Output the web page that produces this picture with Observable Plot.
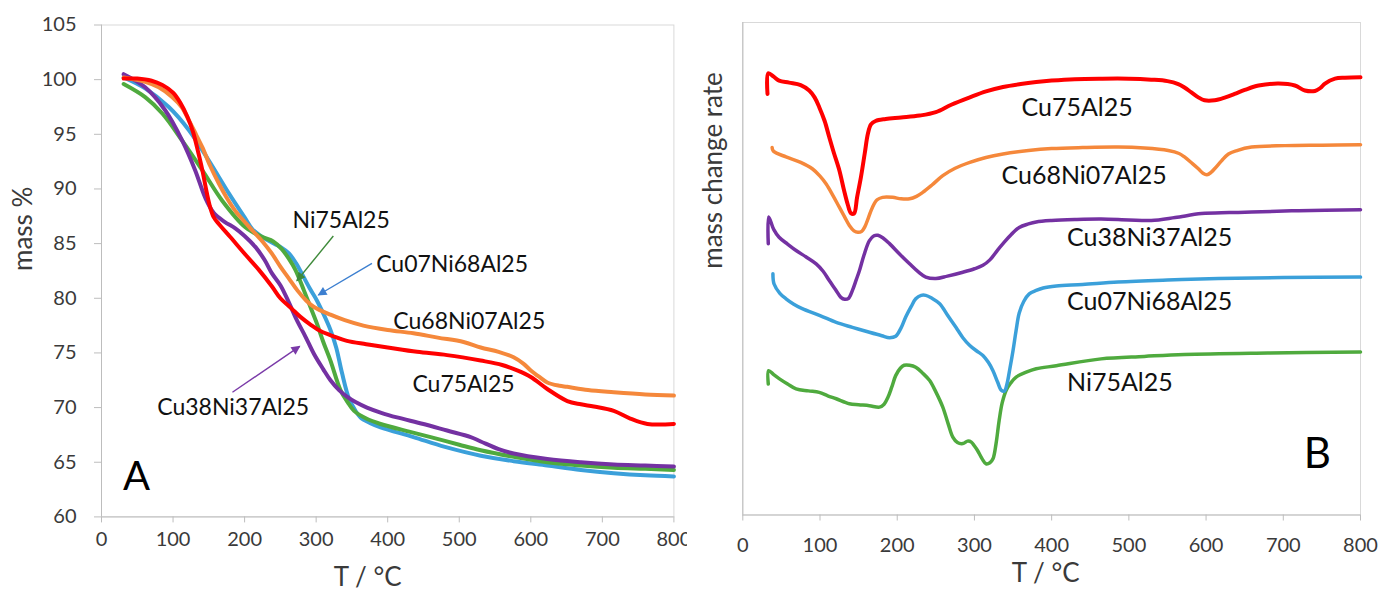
<!DOCTYPE html>
<html><head><meta charset="utf-8">
<script src="https://cdn.jsdelivr.net/npm/d3@7"></script>
<script src="https://cdn.jsdelivr.net/npm/@observablehq/plot@0.6"></script>
<style>
body{margin:0;background:#fff;}
#wrap{position:relative;width:1380px;height:591px;overflow:hidden;background:#fff;}
#a{position:absolute;left:0;top:0;}
#b{position:absolute;left:687px;top:0;background:#fff;}
</style></head><body><div id="wrap"><div id="a"></div><div id="b"></div></div>
<script>
// ---------- data ----------
const xTicks = [0, 100, 200, 300, 400, 500, 600, 700, 800];
const yTicksA = [60, 65, 70, 75, 80, 85, 90, 95, 100, 105];
const seriesNames = ["Cu75Al25", "Cu68Ni07Al25", "Cu38Ni37Al25", "Cu07Ni68Al25", "Ni75Al25"];
const seriesColors = ["#ff0000", "#f5883b", "#7431a2", "#3ba0da", "#4faa3e"];

// Panel A: mass % vs T (°C)
const tgaCu75Al25 = [[31,100.1],[50,100.1],[70,99.9],[85,99.5],[100,98.8],[110,97.9],[120,96.6],[128,95.2],[135,93.4],[141,91.7],[147,89.7],[152,88.3],[157,87.4],[164,86.8],[180,85.6],[201,84.0],[220,82.6],[238,81.1],[250,80.0],[265,79.1],[278,78.3],[292,77.6],[306,77.0],[325,76.5],[343,76.1],[370,75.8],[400,75.5],[441,75.1],[483,74.8],[530,74.3],[560,73.9],[581,73.4],[600,72.8],[623,71.7],[651,70.6],[670,70.3],[688,70.1],[716,69.7],[739,69.0],[763,68.5],[800,68.5]];
const tgaCu68Ni07Al25 = [[31,100.2],[61,99.8],[80,99.3],[99,98.4],[112,97.5],[122,96.3],[132,95.0],[141,93.8],[152,92.1],[164,90.5],[175,89.2],[187,88.0],[200,87.0],[211,86.2],[225,85.2],[238,84.1],[250,82.9],[262,81.8],[274,80.7],[286,79.8],[297,79.2],[320,78.5],[340,78.0],[366,77.5],[400,77.1],[436,76.8],[470,76.4],[506,76.0],[530,75.5],[555,75.1],[576,74.6],[590,74.0],[600,73.4],[612,72.8],[623,72.3],[640,72.0],[651,71.9],[680,71.6],[716,71.4],[760,71.2],[800,71.1]];
const tgaCu38Ni37Al25 = [[31,100.5],[61,99.3],[89,97.2],[113,94.4],[131,91.7],[145,89.2],[157,87.8],[172,87.0],[187,86.4],[200,85.7],[215,84.7],[228,83.5],[238,82.3],[250,81.2],[262,79.6],[273,78.0],[285,76.5],[297,74.9],[310,73.5],[320,72.5],[332,71.6],[343,71.0],[355,70.5],[371,70.0],[392,69.5],[413,69.1],[450,68.5],[483,67.9],[516,67.3],[530,66.9],[555,66.2],[576,65.8],[623,65.3],[670,65.0],[716,64.8],[760,64.7],[800,64.6]];
const tgaCu07Ni68Al25 = [[31,100.2],[61,99.2],[94,97.5],[122,95.4],[150,92.6],[178,89.6],[200,87.4],[211,86.3],[225,85.6],[238,85.1],[250,84.7],[262,84.1],[272,83.2],[282,82.0],[292,80.8],[301,79.8],[310,78.6],[320,77.1],[328,75.5],[336,73.2],[346,70.8],[355,69.7],[362,69.1],[375,68.6],[390,68.2],[436,67.3],[480,66.4],[530,65.6],[576,65.1],[623,64.7],[670,64.3],[716,64.0],[760,63.8],[800,63.7]];
const tgaNi75Al25 = [[31,99.6],[61,98.4],[85,96.9],[113,94.4],[141,91.7],[169,88.9],[201,86.5],[225,85.6],[240,85.2],[252,84.5],[262,83.6],[271,82.6],[283,80.7],[292,79.2],[301,77.7],[310,76.0],[320,74.3],[334,71.6],[344,70.5],[353,69.7],[370,69.0],[390,68.5],[430,67.8],[460,67.3],[500,66.6],[530,66.1],[576,65.5],[623,65.0],[670,64.7],[716,64.5],[760,64.4],[800,64.3]];

// Panel B: mass change rate (arbitrary units, curves offset) vs T (°C)
const dtgCu75Al25 = [[32,85.5],[33,89.7],[40,89.0],[47,88.2],[60,87.8],[75,87.3],[86,86.2],[93,84.8],[99,82.8],[106,80.0],[112,76.7],[118,73.5],[125,70.0],[131,66.0],[136,63.0],[140,61.3],[144,61.2],[148,64.5],[153,68.6],[158,73.5],[162,77.4],[166,79.3],[172,80.0],[185,80.4],[205,80.7],[229,81.1],[250,81.8],[270,83.3],[294,84.8],[315,86.0],[337,86.9],[360,87.5],[380,87.9],[400,88.2],[430,88.5],[464,88.6],[500,88.6],[529,88.4],[550,88.1],[564,87.5],[572,86.8],[581,85.8],[590,84.8],[598,84.2],[611,84.2],[625,84.8],[637,85.5],[650,86.3],[668,87.2],[694,87.6],[715,87.2],[728,86.2],[741,86.1],[748,86.7],[754,87.6],[767,88.6],[780,88.8],[800,88.9]];
const dtgCu68Ni07Al25 = [[38,74.6],[39.5,73.9],[56,72.7],[75,71.6],[90,70.3],[100,68.8],[108,67.2],[117,64.8],[125,62.5],[132,60.5],[138,58.8],[144,57.7],[149,57.4],[154,57.6],[158,58.5],[163,60.5],[168,62.5],[174,64.0],[181,64.5],[194,64.5],[205,64.2],[216,64.2],[225,64.7],[233,65.5],[245,67.0],[259,68.9],[275,70.4],[294,71.6],[315,72.6],[337,73.3],[370,74.0],[400,74.4],[440,74.6],[486,74.7],[520,74.5],[551,74.0],[565,73.4],[572,72.7],[582,71.4],[590,70.3],[596,69.4],[601,69.1],[606,69.5],[611,70.3],[620,71.9],[629,73.3],[640,74.0],[659,74.7],[702,75.0],[750,75.1],[800,75.2]];
const dtgCu38Ni37Al25 = [[33,55.1],[33.5,60.5],[40,58.0],[47,56.4],[58,55.0],[69,53.7],[82,52.4],[95,51.0],[104,49.5],[112,47.6],[120,45.8],[127,44.2],[132,43.8],[137,44.0],[142,45.6],[147,47.8],[151,49.6],[157,52.8],[164,55.7],[170,56.7],[175,56.8],[182,56.2],[190,55.1],[203,53.0],[216,51.0],[227,49.4],[237,48.3],[250,48.0],[265,48.5],[285,49.3],[300,50.0],[311,50.7],[320,51.8],[330,53.8],[337,55.1],[348,57.0],[358,58.4],[370,59.1],[380,59.5],[400,59.8],[430,60.0],[464,60.1],[500,59.9],[529,59.8],[560,60.4],[594,61.2],[630,61.4],[659,61.5],[720,61.8],[800,62.0]];
const dtgCu07Ni68Al25 = [[39,49.0],[40.5,46.9],[48,45.0],[56,43.9],[66,42.8],[77,41.9],[100,40.5],[121,39.1],[142,38.1],[164,37.1],[180,36.4],[190,36.0],[198,36.3],[205,38.0],[211,40.2],[218,42.3],[224,43.9],[231,44.6],[237,44.6],[245,44.0],[255,42.9],[265,40.6],[276,38.1],[285,36.0],[294,34.4],[303,33.3],[311,32.4],[318,31.0],[324,29.3],[330,27.0],[335,25.3],[339,25.2],[342,26.5],[346,29.8],[350,33.4],[354,37.5],[358,41.0],[364,43.4],[371,44.9],[380,45.6],[389,46.1],[406,46.5],[440,46.8],[486,47.3],[550,47.7],[616,48.0],[700,48.2],[800,48.3]];
const dtgNi75Al25 = [[33,26.6],[33.5,29.3],[40,28.5],[47,27.7],[58,26.6],[69,25.6],[85,25.2],[99,24.9],[110,24.2],[121,23.6],[138,22.6],[150,22.4],[164,22.2],[177,21.9],[183,22.5],[188,23.9],[193,26.0],[198,28.3],[204,29.8],[209,30.4],[216,30.4],[224,30.0],[233,28.8],[242,27.3],[250,25.0],[259,21.9],[266,18.5],[272,15.8],[278,14.7],[285,14.5],[291,15.0],[296,14.8],[300,14.0],[304,13.1],[310,11.4],[315,10.4],[320,10.6],[324,11.4],[328,14.5],[332,19.2],[336,22.8],[341,25.3],[347,26.8],[354,28.0],[367,29.0],[380,29.7],[406,30.3],[464,31.7],[520,32.2],[572,32.6],[680,32.9],[800,33.1]];

// annotations (data coordinates)
const labelsA = [
  {text: "Ni75Al25", T: 335, v: 87.1},
  {text: "Cu07Ni68Al25", T: 490, v: 83.1},
  {text: "Cu68Ni07Al25", T: 514, v: 77.9},
  {text: "Cu75Al25", T: 506, v: 72.1},
  {text: "Cu38Ni37Al25", T: 184, v: 70.0}
];
const arrowsA = [
  {T1: 324, v1: 85.7, T2: 273, v2: 81.6},
  {T1: 378, v1: 83.2, T2: 303, v2: 80.3},
  {T1: 183, v1: 71.4, T2: 277, v2: 75.6}
];
const arrowColors = ["#3e8a3a", "#3c7fd0", "#7a3aa8"];
const panelA = {text: "A", T: 49, v: 63.6};
const labelsBCenter = [
  {text: "Cu75Al25", T: 433, v: 82.7},
  {text: "Cu68Ni07Al25", T: 442, v: 68.9}
];
const labelsBStart = [
  {text: "Cu38Ni37Al25", T: 420, v: 56.2},
  {text: "Cu07Ni68Al25", T: 420, v: 43.2},
  {text: "Ni75Al25", T: 420, v: 26.8}
];
const panelB = {text: "B", T: 744, v: 12.2};

// ---------- helpers ----------
const rows = (name, arr) => arr.map(([T, v]) => ({name, T, v}));
const tga = {Cu75Al25: tgaCu75Al25, Cu68Ni07Al25: tgaCu68Ni07Al25, Cu38Ni37Al25: tgaCu38Ni37Al25, Cu07Ni68Al25: tgaCu07Ni68Al25, Ni75Al25: tgaNi75Al25};
const dtg = {Cu75Al25: dtgCu75Al25, Cu68Ni07Al25: dtgCu68Ni07Al25, Cu38Ni37Al25: dtgCu38Ni37Al25, Cu07Ni68Al25: dtgCu07Ni68Al25, Ni75Al25: dtgNi75Al25};
const orderA = ["Cu07Ni68Al25", "Ni75Al25", "Cu38Ni37Al25", "Cu68Ni07Al25", "Cu75Al25"];
const orderB = ["Ni75Al25", "Cu07Ni68Al25", "Cu38Ni37Al25", "Cu68Ni07Al25", "Cu75Al25"];
const color = {domain: seriesNames, range: seriesColors};
const FONT = "Lato, 'Open Sans', sans-serif";
const axisGray = "#bdbdbd", tickText = "#3a3a3a";

function headMarker(c) {
  const ns = "http://www.w3.org/2000/svg";
  const m = document.createElementNS(ns, "marker");
  m.setAttribute("viewBox", "0 0 10 10");
  m.setAttribute("refX", "9");
  m.setAttribute("refY", "5");
  m.setAttribute("markerWidth", "11");
  m.setAttribute("markerHeight", "9");
  m.setAttribute("markerUnits", "userSpaceOnUse");
  m.setAttribute("orient", "auto");
  const p = document.createElementNS(ns, "path");
  p.setAttribute("d", "M0,0L10,5L0,10z");
  p.setAttribute("fill", c);
  p.setAttribute("stroke", "none");
  m.appendChild(p);
  return m;
}

// ---------- Panel A ----------
const plotA = Plot.plot({
  width: 700, height: 591,
  marginLeft: 101, marginRight: 26.6, marginTop: 24.5, marginBottom: 74.6,
  style: {fontFamily: FONT, background: "#fff", overflow: "visible"},
  x: {domain: [0, 800]},
  y: {domain: [60, 105]},
  color,
  marks: [
    Plot.frame({stroke: "#d9d9d9"}),
    Plot.ruleX([0], {stroke: axisGray}),
    Plot.ruleY([60], {stroke: axisGray}),
    Plot.axisX({ticks: xTicks, tickSize: 6, tickPadding: 9, stroke: axisGray, fill: tickText, fontSize: 20, label: null}),
    Plot.axisY({ticks: yTicksA, tickSize: 7, tickPadding: 18, stroke: axisGray, fill: tickText, fontSize: 20, label: null}),
    ...orderA.map(n => Plot.line(rows(n, tga[n]), {x: "T", y: "v", stroke: "name", strokeWidth: 4, curve: "catmull-rom", strokeLinejoin: "round", strokeLinecap: "round"})),
    ...arrowsA.map((a, i) => Plot.link([a], {x1: "T1", y1: "v1", x2: "T2", y2: "v2", stroke: arrowColors[i], strokeWidth: 1.4, markerEnd: headMarker})),
    Plot.text(labelsA, {x: "T", y: "v", text: "text", fontSize: 23, fill: "#111"}),
    Plot.text([panelA], {x: "T", y: "v", text: "text", fontSize: 40, fill: "#000"}),
    Plot.text(["mass %"], {frameAnchor: "left", dx: -78, rotate: -90, fontSize: 26, fill: tickText}),
    Plot.text(["T / °C"], {frameAnchor: "bottom", dx: -20, dy: 69, fontSize: 26, fill: tickText})
  ]
});
document.getElementById("a").appendChild(plotA);

// ---------- Panel B ----------
const plotB = Plot.plot({
  width: 693, height: 591,
  marginLeft: 55.3, marginRight: 20, marginTop: 22, marginBottom: 76.5,
  style: {fontFamily: FONT, background: "#fff", overflow: "visible"},
  x: {domain: [0, 800]},
  y: {domain: [0, 100], axis: null},
  color,
  marks: [
    Plot.frame({stroke: "#d9d9d9"}),
    Plot.ruleX([0], {stroke: axisGray}),
    Plot.ruleY([0], {stroke: axisGray}),
    Plot.axisX({ticks: xTicks, tickSize: 6, tickPadding: 17, stroke: axisGray, fill: tickText, fontSize: 20, label: null}),
    ...orderB.map(n => Plot.line(rows(n, dtg[n]), {x: "T", y: "v", stroke: "name", strokeWidth: n === "Cu75Al25" ? 4 : 3.5, curve: "catmull-rom", strokeLinejoin: "round", strokeLinecap: "round"})),
    Plot.text(labelsBCenter, {x: "T", y: "v", text: "text", fontSize: 25, fill: "#111"}),
    Plot.text(labelsBStart, {x: "T", y: "v", text: "text", fontSize: 25, fill: "#111", textAnchor: "start"}),
    Plot.text([panelB], {x: "T", y: "v", text: "text", fontSize: 42, fill: "#000"}),
    Plot.text(["mass change rate"], {frameAnchor: "left", dx: -29, rotate: -90, fontSize: 26, fill: tickText}),
    Plot.text(["T / °C"], {frameAnchor: "bottom", dx: -6, dy: 67, fontSize: 26, fill: tickText})
  ]
});
document.getElementById("b").appendChild(plotB);
</script>
</body></html>
